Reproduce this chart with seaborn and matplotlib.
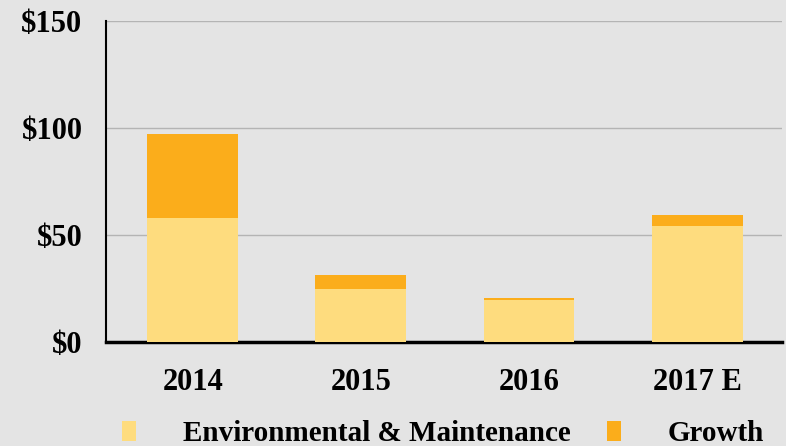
import matplotlib
matplotlib.use("Agg")
import matplotlib.pyplot as plt
import seaborn as sns
import pandas as pd
from matplotlib.patches import Patch

years = ["2014", "2015", "2016", "2017 E"]
env_maint = [58, 25, 19.6, 54.2]
growth = [39, 6.3, 1.0, 5.1]

env_color = "#FEDC7E"
growth_color = "#FBAD1B"
bg = "#E4E4E4"

sns.set_theme(style="white")
plt.rcParams["font.family"] = ["Liberation Serif", "DejaVu Serif"]
plt.rcParams["font.weight"] = "bold"
plt.rcParams["text.color"] = "black"
plt.rcParams["xtick.color"] = "black"
plt.rcParams["ytick.color"] = "black"

df = pd.DataFrame({"year": years, "env": env_maint, "growth": growth})
df["total"] = df["env"] + df["growth"]

fig = plt.figure(figsize=(7.86, 4.46), dpi=100, facecolor=bg)
ax = fig.add_axes([0.135, 0.233, 0.86, 0.72])
ax.set_facecolor(bg)

# stacked: total in growth colour, env drawn over it
sns.barplot(data=df, x="year", y="total", color=growth_color, width=0.54,
            saturation=1, edgecolor="none", linewidth=0, ax=ax, zorder=2)
sns.barplot(data=df, x="year", y="env", color=env_color, width=0.54,
            saturation=1, edgecolor="none", linewidth=0, ax=ax, zorder=3)

ax.set_ylim(0, 150)
ax.set_xlim(-0.515, 3.505)
ax.set_yticks([0, 50, 100, 150])
ax.set_yticklabels(["$0", "$50", "$100", "$150"])
ax.set_xlabel("")
ax.set_ylabel("")
ax.yaxis.grid(True, color="#B4B4B4", linewidth=1)
ax.set_axisbelow(True)
ax.tick_params(axis="both", length=0, labelsize=22, labelcolor="black")
ax.tick_params(axis="x", pad=19)
ax.tick_params(axis="y", pad=17)
for lbl in ax.get_xticklabels() + ax.get_yticklabels():
    lbl.set_fontweight("bold")

for side in ["top", "right"]:
    ax.spines[side].set_visible(False)
ax.spines["left"].set_color("black")
ax.spines["left"].set_linewidth(1.5)
ax.spines["bottom"].set_color("black")
ax.spines["bottom"].set_linewidth(2.5)

handles = [Patch(facecolor=env_color, edgecolor="none"),
           Patch(facecolor=growth_color, edgecolor="none")]
fig.legend(handles, ["Environmental & Maintenance", "Growth"],
           loc="lower left", bbox_to_anchor=(0.122, -0.062), ncol=2,
           frameon=False, handlelength=0.48, handleheight=0.7,
           handletextpad=1.6, columnspacing=1.24,
           prop={"size": 21, "weight": "bold"})

fig.savefig("out.png", dpi=100, facecolor=bg)
